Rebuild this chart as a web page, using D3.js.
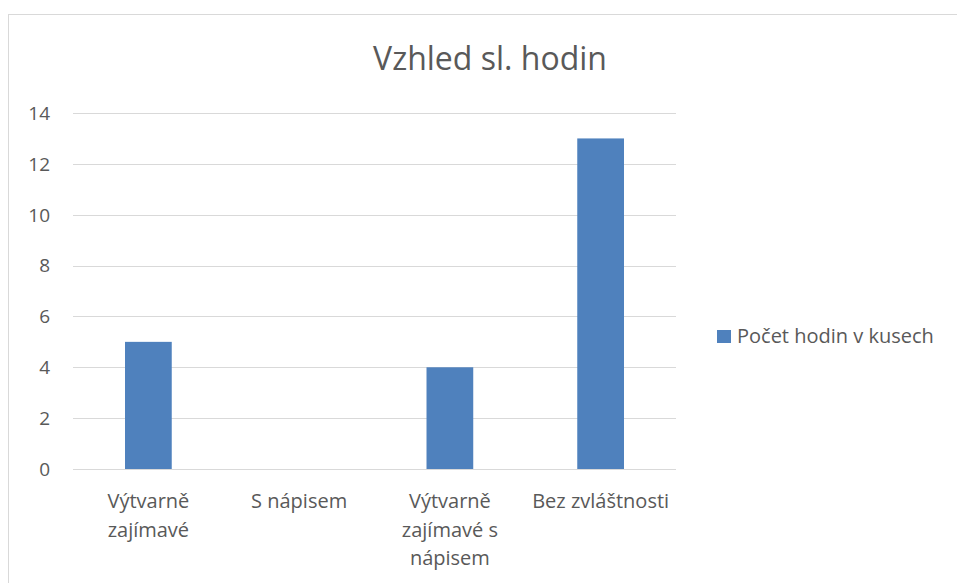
<!DOCTYPE html>
<meta charset="utf-8">
<script src="https://d3js.org/d3.v7.min.js"></script>
<style>
  body { margin: 0; background: #fff; }
  text { font-family: "Open Sans", sans-serif; fill: #595959; }
</style>
<div id="chart"></div>
<script>

// data
var categories = ["Výtvarně\nzajímavé", "S nápisem", "Výtvarně\nzajímavé s\nnápisem", "Bez zvláštnosti"]
var values = [5, 0, 4, 13]
var yTicks = [0, 2, 4, 6, 8, 10, 12, 14]
var seriesName = "Počet hodin v kusech"
var title = "Vzhled sl. hodin"

var width = 957, height = 583
var margin = {top: 113, left: 73, right: 281, bottom: 114}

var svg = d3.select("#chart").append("svg")
    .attr("width", width)
    .attr("height", height)

// chart border
svg.append("rect")
    .attr("x", 8.5).attr("y", 14.5)
    .attr("width", 970).attr("height", 600)
    .attr("fill", "none")
    .attr("stroke", "#d9d9d9")

var x = d3.scaleBand()
    .domain(categories)
    .range([margin.left, width - margin.right])
    .paddingInner(0.69)
    .paddingOuter(0.345)

var y = d3.scaleLinear()
    .domain([0, 14])
    .range([height - margin.bottom, margin.top])

// gridlines
svg.append("g")
  .selectAll("line")
  .data(yTicks)
  .enter().append("line")
    .attr("x1", margin.left).attr("x2", width - margin.right)
    .attr("y1", function(d){ return Math.round(y(d)) + 0.5 })
    .attr("y2", function(d){ return Math.round(y(d)) + 0.5 })
    .attr("stroke", "#d9d9d9")
    .attr("stroke-width", 1)

// y labels
svg.append("g")
  .selectAll("text")
  .data(yTicks)
  .enter().append("text")
    .attr("x", 50)
    .attr("y", function(d){ return y(d) })
    .attr("dy", "0.36em")
    .attr("text-anchor", "end")
    .style("font-size", "19px")
    .text(function(d){ return d })

// bars
svg.append("g")
  .selectAll("rect")
  .data(values)
  .enter().append("rect")
    .attr("x", function(d, i){ return x(categories[i]) })
    .attr("width", x.bandwidth())
    .attr("y", function(d){ return y(d) })
    .attr("height", function(d){ return y(0) - y(d) })
    .attr("fill", "#4f81bd")

// x labels
var xl = svg.append("g")
  .selectAll("text")
  .data(categories)
  .enter().append("text")
    .attr("text-anchor", "middle")
    .style("font-size", "20px")
    .attr("transform", function(d){ return "translate(" + (x(d) + x.bandwidth() / 2) + ",508)" })
xl.selectAll("tspan")
  .data(function(d){ return d.split("\n") })
  .enter().append("tspan")
    .attr("x", 0)
    .attr("y", function(d, i){ return i * 28.5 })
    .text(function(d){ return d })

// title
svg.append("text")
    .attr("x", 490).attr("y", 70)
    .attr("text-anchor", "middle")
    .style("font-size", "32px")
    .text(title)

// legend
svg.append("rect")
    .attr("x", 717).attr("y", 330)
    .attr("width", 14).attr("height", 13)
    .attr("fill", "#4f81bd")
svg.append("text")
    .attr("x", 737).attr("y", 343)
    .style("font-size", "20px")
    .text(seriesName)
</script>
